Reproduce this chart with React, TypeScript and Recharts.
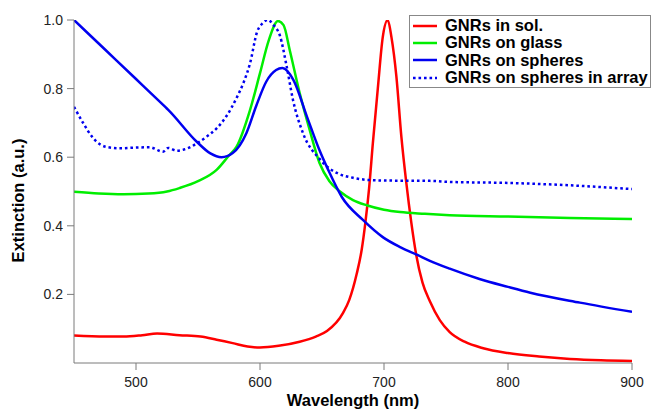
import React from 'react';
import { LineChart, Line, XAxis, YAxis, Legend, Label } from 'recharts';

// wavelength (nm) / extinction (a.u.)
const solWl = [450, 475, 490, 505, 517, 535, 552, 565, 578, 590, 600, 615, 632, 645, 654, 667, 672, 678, 682, 685, 688, 691, 695, 699, 703, 706, 710, 714, 718, 722, 726, 731, 737, 745, 753, 765, 780, 800, 825, 850, 875, 900];
const solExt = [0.080, 0.077, 0.077, 0.081, 0.086, 0.081, 0.077, 0.068, 0.058, 0.048, 0.045, 0.050, 0.062, 0.077, 0.093, 0.146, 0.184, 0.26, 0.33, 0.41, 0.51, 0.64, 0.80, 0.95, 1.0, 0.95, 0.835, 0.66, 0.525, 0.41, 0.315, 0.235, 0.18, 0.125, 0.09, 0.062, 0.043, 0.029, 0.019, 0.012, 0.008, 0.006];

const glassWl = [450, 470, 490, 510, 525, 535, 550, 565, 575, 581, 592, 600, 607, 614.5, 619, 624, 632, 640, 648, 656, 664.5, 675, 686, 700, 713, 733, 753, 800, 850, 900];
const glassExt = [0.499, 0.494, 0.492, 0.494, 0.50, 0.51, 0.53, 0.563, 0.605, 0.63, 0.738, 0.845, 0.94, 0.997, 0.985, 0.912, 0.787, 0.68, 0.583, 0.53, 0.50, 0.475, 0.46, 0.447, 0.44, 0.435, 0.431, 0.427, 0.423, 0.42];

const sphWl = [450, 475, 500, 524, 526, 549, 560, 569, 578, 589, 597, 605, 613, 618, 627, 638, 648, 655, 666, 683, 699, 713, 727, 737, 753, 777, 800, 818, 858, 900];
const sphExt = [1.0, 0.914, 0.828, 0.745, 0.738, 0.645, 0.611, 0.60, 0.612, 0.67, 0.75, 0.82, 0.854, 0.86, 0.825, 0.717, 0.62, 0.563, 0.484, 0.417, 0.367, 0.338, 0.315, 0.298, 0.275, 0.245, 0.222, 0.205, 0.176, 0.149];

const arrWl = [450, 457.5, 465.6, 476, 487, 500, 511, 521.8, 526, 532.8, 541, 549, 557, 565, 573, 581, 587, 592, 597.6, 602, 606.5, 611, 616, 621.6, 626.6, 634.7, 648, 655, 662, 675, 686, 700, 737, 753, 800, 850, 900];
const arrExt = [0.747, 0.699, 0.655, 0.63, 0.626, 0.628, 0.629, 0.616, 0.627, 0.619, 0.625, 0.64, 0.66, 0.684, 0.72, 0.772, 0.82, 0.874, 0.965, 0.99, 1.0, 0.985, 0.955, 0.863, 0.767, 0.67, 0.595, 0.57, 0.554, 0.54, 0.534, 0.532, 0.531, 0.528, 0.525, 0.518, 0.507];

const wavelengthTicks = [500, 600, 700, 800, 900];
const extinctionTicks = [0.2, 0.4, 0.6, 0.8, 1.0];

const FONT = '"Liberation Sans", Arial, Helvetica, sans-serif';
const AXIS = '#7a7a7a';

const toPoints = (wl: number[], ext: number[]) => wl.map((w, i) => ({ wl: w, ext: ext[i] }));

const series = [
    { name: 'GNRs in sol.', color: '#ff0000', dash: undefined, data: toPoints(solWl, solExt) },
    { name: 'GNRs on glass', color: '#00ee00', dash: undefined, data: toPoints(glassWl, glassExt) },
    { name: 'GNRs on spheres', color: '#0000f0', dash: undefined, data: toPoints(sphWl, sphExt) },
    { name: 'GNRs on spheres in array', color: '#0000f0', dash: '2.6 2.9', data: toPoints(arrWl, arrExt) },
];

const LegendBox = () => (
    <div
        style={{
            border: '1px solid #888',
            background: '#fff',
            padding: '1px 0',
            width: 240,
            fontFamily: FONT,
            fontWeight: 'bold',
            fontSize: 16.5,
            color: '#000',
        }}
    >
        {series.map((s) => (
            <div key={s.name} style={{ display: 'flex', alignItems: 'center', height: 17.3, whiteSpace: 'nowrap' }}>
                <svg width={24} height={6} style={{ marginLeft: 3, marginRight: 8, flex: 'none' }}>
                    <line x1={0} y1={3} x2={24} y2={3} stroke={s.color} strokeWidth={2.5} strokeDasharray={s.dash} />
                </svg>
                <span>{s.name}</span>
            </div>
        ))}
    </div>
);

const XTitle = (props: any) => {
    const vb = props.viewBox;
    return (
        <text x={vb.x + vb.width / 2} y={vb.y + 43} textAnchor="middle" fontFamily={FONT} fontWeight="bold" fontSize={16.5} fill="#000">
            Wavelength (nm)
        </text>
    );
};

const YTitle = (props: any) => {
    const vb = props.viewBox;
    const cx = 23.5;
    const cy = vb.y + vb.height / 2 + 9;
    return (
        <text x={cx} y={cy} transform={`rotate(-90 ${cx} ${cy})`} textAnchor="middle" fontFamily={FONT} fontWeight="bold" fontSize={16.5} fill="#000">
            Extinction (a.u.)
        </text>
    );
};

export default function App() {
    return (
        <div style={{ position: 'absolute', left: 0, top: 0, background: '#fff' }}>
            <LineChart width={651} height={409} margin={{ top: 20, right: 19, bottom: 0, left: 0 }}>
                <XAxis
                    type="number"
                    dataKey="wl"
                    domain={[450, 900]}
                    ticks={wavelengthTicks}
                    interval={0}
                    allowDataOverflow
                    height={46}
                    stroke={AXIS}
                    tickSize={7}
                    tickMargin={7}
                    tick={{ fill: '#222', fontSize: 14, fontFamily: FONT }}
                >
                    <Label content={XTitle} />
                </XAxis>
                <YAxis
                    type="number"
                    domain={[0, 1]}
                    ticks={extinctionTicks}
                    interval={0}
                    allowDataOverflow
                    width={74}
                    stroke={AXIS}
                    tickSize={7}
                    tickMargin={4}
                    tickFormatter={(v: number) => v.toFixed(1)}
                    tick={{ fill: '#222', fontSize: 14, fontFamily: FONT }}
                >
                    <Label content={YTitle} />
                </YAxis>
                <Legend
                    layout="horizontal"
                    verticalAlign="middle"
                    align="center"
                    content={() => <LegendBox />}
                    wrapperStyle={{ position: 'absolute', left: 409, top: 15, width: 'auto', margin: 0 }}
                />
                {series.map((s) => (
                    <Line
                        key={s.name}
                        name={s.name}
                        data={s.data}
                        dataKey="ext"
                        type="monotone"
                        stroke={s.color}
                        strokeWidth={2.5}
                        strokeDasharray={s.dash}
                        dot={false}
                        activeDot={false}
                        isAnimationActive={false}
                    />
                ))}
            </LineChart>
        </div>
    );
}
